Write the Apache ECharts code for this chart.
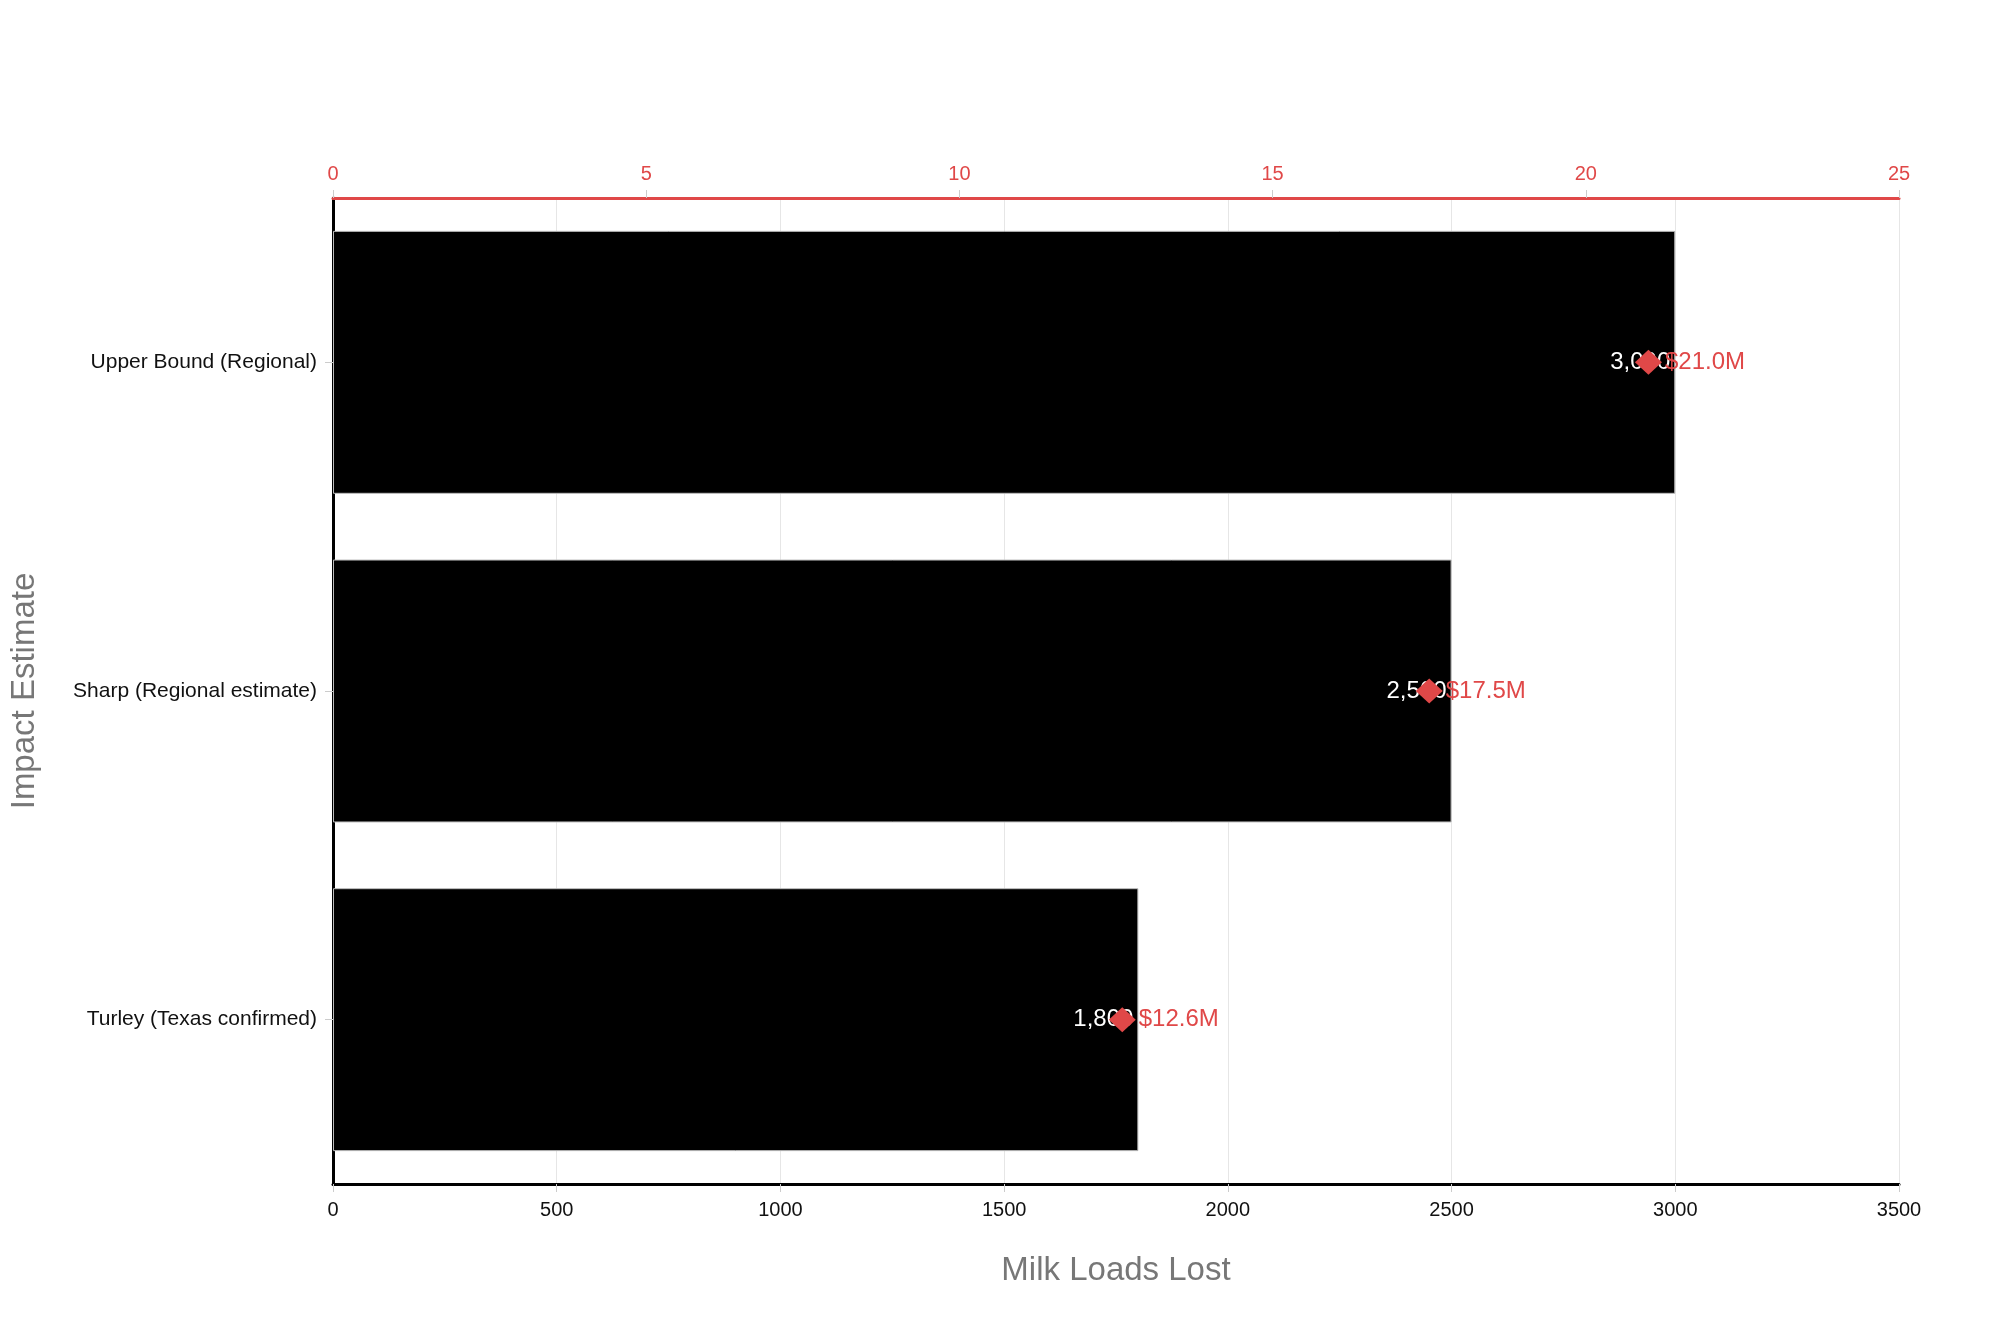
<!DOCTYPE html>
<html>
<head>
<meta charset="utf-8">
<script src="https://cdn.jsdelivr.net/npm/echarts@6/dist/echarts.min.js"></script>
<style>
html,body{margin:0;padding:0;background:#fff;}
#chart{width:2000px;height:1333px;}
</style>
</head>
<body>
<div id="chart"></div>
<script>
const categories = ['Upper Bound (Regional)', 'Sharp (Regional estimate)', 'Turley (Texas confirmed)'];
const milkLoads = [3000, 2500, 1800];
const dollarsM = [21.0, 17.5, 12.6];
const bottomTicks = [0, 500, 1000, 1500, 2000, 2500, 3000, 3500];
const topTicks = [0, 5, 10, 15, 20, 25];

const RED = '#e04848';
const FONT = '"Liberation Sans", Arial, sans-serif';

const chart = echarts.init(document.getElementById('chart'));
chart.setOption({
  animation: false,
  backgroundColor: '#fff',
  grid: { left: 329, right: 101, top: 198, bottom: 149, containLabel: false },
  xAxis: [
    {
      type: 'value', position: 'bottom',
      min: bottomTicks[0], max: bottomTicks[bottomTicks.length - 1], interval: 500,
      name: 'Milk Loads Lost', nameLocation: 'middle', nameGap: 70,
      nameTextStyle: { color: '#777', fontSize: 33, fontFamily: FONT },
      axisLine: { show: true, lineStyle: { color: '#000', width: 3 } },
      axisTick: { show: true, length: 8, lineStyle: { color: '#ccc' } },
      axisLabel: { color: '#111', fontSize: 20, fontFamily: FONT, margin: 16, formatter: v => String(v) },
      splitLine: { show: true, lineStyle: { color: '#e6e6e6', width: 1 } }
    },
    {
      type: 'value', position: 'top',
      min: topTicks[0], max: topTicks[topTicks.length - 1], interval: 5,
      axisLine: { show: true, lineStyle: { color: RED, width: 3 } },
      axisTick: { show: true, length: 8, lineStyle: { color: '#ccc' } },
      axisLabel: { color: RED, fontSize: 20, fontFamily: FONT, margin: 14 },
      splitLine: { show: false }
    }
  ],
  yAxis: {
    type: 'category', data: categories, inverse: true,
    name: 'Impact Estimate', nameLocation: 'middle', nameGap: 292, nameRotate: 90,
    nameTextStyle: { color: '#777', fontSize: 33, fontFamily: FONT },
    axisLine: { show: true, lineStyle: { color: '#000', width: 3 } },
    axisTick: { show: true, alignWithLabel: true, length: 8, lineStyle: { color: '#ccc' } },
    axisLabel: { color: '#111', fontSize: 21, fontFamily: FONT, margin: 16 },
    splitLine: { show: false }
  },
  series: [
    {
      type: 'bar', xAxisIndex: 0,
      data: milkLoads,
      barCategoryGap: '20%',
      itemStyle: { color: '#000', borderColor: '#bbb', borderWidth: 1 },
      label: {
        show: true, position: 'insideRight', distance: 5,
        color: '#fff', fontSize: 24, fontFamily: FONT, textBorderWidth: 0,
        formatter: p => p.value.toLocaleString('en-US')
      },
      z: 2
    },
    {
      type: 'scatter', xAxisIndex: 1, zlevel: 1,
      data: dollarsM.map((v, i) => [v, categories[i]]),
      symbol: 'diamond', symbolSize: [27, 25],
      itemStyle: { color: RED, opacity: 1 },
      label: {
        show: true, position: 'right', distance: 3,
        color: RED, fontSize: 24, fontFamily: FONT, textBorderWidth: 0,
        formatter: p => '$' + p.value[0].toFixed(1) + 'M'
      },
      z: 5
    }
  ]
});
</script>
</body>
</html>
